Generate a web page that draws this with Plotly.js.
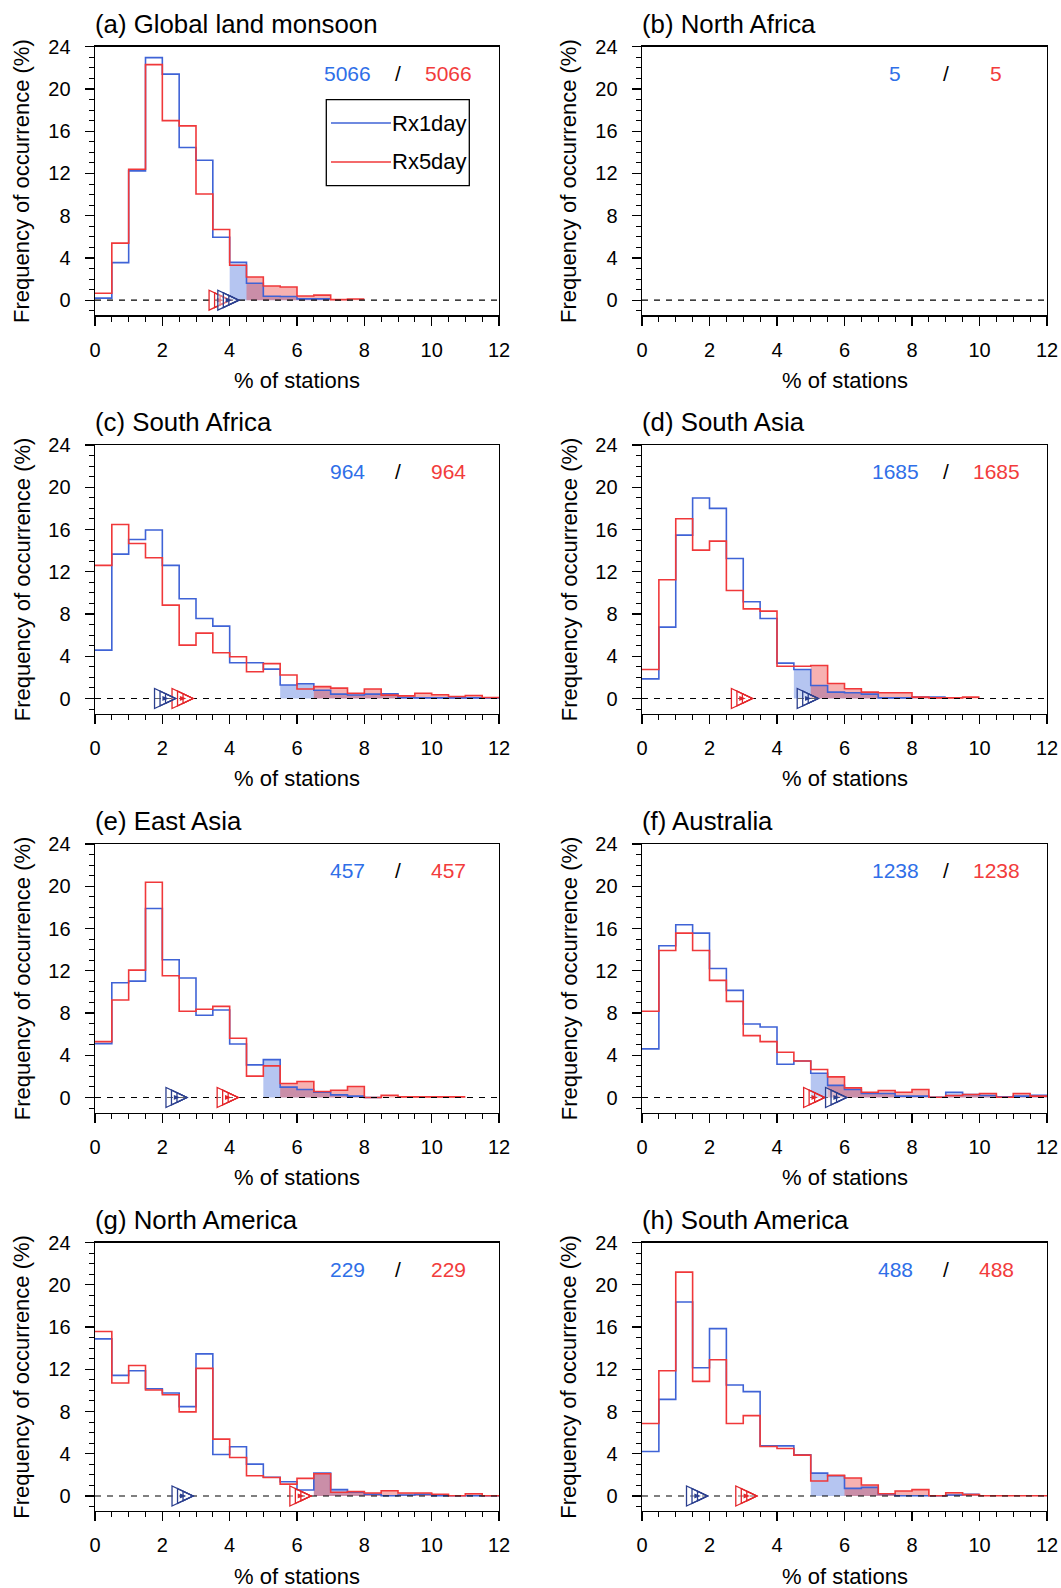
<!DOCTYPE html>
<html>
<head>
<meta charset="utf-8">
<script src="https://cdn.plot.ly/plotly-3.0.1.min.js"></script>
<style>html,body{margin:0;padding:0;background:#fff}#chart{width:1061px;height:1588px}</style>
</head>
<body>
<div id="chart"></div>
<script>
// ---------------- DATA ----------------
const binEdges = [0,0.5,1,1.5,2,2.5,3,3.5,4,4.5,5,5.5,6,6.5,7,7.5,8,8.5,9,9.5,10,10.5,11,11.5,12];
const seriesNames = ["Rx1day", "Rx5day"];
const panelTitles = ["(a) Global land monsoon","(b) North Africa","(c) South Africa","(d) South Asia",
                     "(e) East Asia","(f) Australia","(g) North America","(h) South America"];
const stationCounts = ["5066","5","964","1685","457","1238","229","488"];

// frequency of occurrence (%) per 0.5-wide bin, Rx1day (blue) and Rx5day (red)
const globalRx1 = [0.2,3.56,12.24,22.97,21.4,14.45,13.25,5.96,3.6,1.6,0.37,0.35,0.13,0.13];
const globalRx5 = [0.66,5.4,12.4,22.3,17.0,16.5,10.06,6.69,3.31,2.2,1.34,1.25,0.4,0.48,0.05,0.12];
const northAfricaRx1 = [];
const northAfricaRx5 = [];
const southAfricaRx1 = [4.58,13.67,15.06,15.95,12.6,9.44,7.58,6.85,3.38,3.38,2.78,1.28,1.4,0.78,0.41,0.33,0.41,0.44,0.08,0.06,0.06,0.06,0.06,0.06];
const southAfricaRx5 = [12.6,16.48,14.68,13.32,8.84,5.05,6.19,4.33,3.95,2.53,3.3,2.22,0.9,1.12,0.98,0.5,0.9,0.32,0.25,0.5,0.35,0.19,0.28,0.1];
const southAsiaRx1 = [1.86,6.76,15.47,18.98,18.0,13.26,9.16,7.58,3.35,2.75,1.23,0.6,0.54,0.41,0.06,0.06,0.13,0.13];
const southAsiaRx5 = [2.75,11.24,17.02,14.05,14.9,10.23,8.49,8.27,3.06,3.06,3.13,1.42,0.92,0.6,0.54,0.54,0.13,0.06,0.06,0.13];
const eastAsiaRx1 = [5.1,10.87,11.02,17.89,13.04,11.31,7.78,8.28,5.07,3.09,3.59,0.98,0.76,0.5,0.25,0.13,0.0];
const eastAsiaRx5 = [5.29,9.23,12.06,20.38,11.53,8.16,8.35,8.63,5.61,2.02,2.99,1.32,1.51,0.57,0.69,1.04,0.0,0.22,0.06,0.06,0.06,0.06];
const australiaRx1 = [4.6,14.36,16.35,15.56,12.22,10.14,6.96,6.68,3.15,3.46,2.3,1.15,0.76,0.38,0.38,0.13,0.13,0.03,0.5,0.28,0.19,0.06,0.13,0.22];
const australiaRx5 = [8.16,13.92,15.56,13.92,11.09,9.1,5.86,5.29,4.28,3.46,2.65,1.95,0.91,0.5,0.66,0.5,0.76,0.03,0.19,0.28,0.38,0.03,0.38,0.13];
const northAmericaRx1 = [14.88,11.42,11.86,10.16,9.75,8.46,13.46,3.93,4.66,3.02,1.78,1.35,0.57,2.17,0.6,0.35,0.16,0.03,0.1,0.16,0.03,0.03,0.03,0.03];
const northAmericaRx5 = [15.57,10.7,12.36,10.03,9.59,7.96,12.08,5.38,3.65,1.92,1.75,1.12,1.67,2.1,0.35,0.41,0.28,0.5,0.28,0.28,0.16,0.03,0.22,0.03];
const southAmericaRx1 = [4.21,9.15,18.37,12.14,15.85,10.51,9.88,4.75,4.75,3.9,2.17,1.92,0.72,0.82,0.19,0.03,0.03,0.03,0.1,0.16];
const southAmericaRx5 = [6.86,11.86,21.2,10.85,12.9,6.86,7.61,4.69,4.5,3.87,1.42,1.95,1.7,1.04,0.22,0.47,0.6,0.03,0.31,0.13,0.03,0.03,0.03,0.03];

// start of the shaded tail (% of stations), [Rx1day, Rx5day]
const tailStart = [[4.0,4.5],[null,null],[5.5,6.5],[4.5,5.0],[5.0,5.5],[5.0,5.5],[6.5,6.5],[5.0,6.0]];
// mean markers (% of stations), [Rx1day, Rx5day]
const meanMarks = [[3.96,3.70],[null,null],[2.08,2.60],[4.91,2.96],[2.42,3.94],[5.75,5.10],[2.60,6.10],[1.63,3.09]];

const panelData = [
  [globalRx1, globalRx5],[northAfricaRx1, northAfricaRx5],
  [southAfricaRx1, southAfricaRx5],[southAsiaRx1, southAsiaRx5],
  [eastAsiaRx1, eastAsiaRx5],[australiaRx1, australiaRx5],
  [northAmericaRx1, northAmericaRx5],[southAmericaRx1, southAmericaRx5]
];

// ---------------- STYLE / LAYOUT ----------------
const W = 1061, H = 1588;
const FONT = "Liberation Sans, Arial, Helvetica, sans-serif";
const lineColors = ["#3f63d6", "#f0383a"];
const fillColors = ["rgba(70,110,220,0.40)", "rgba(235,60,60,0.40)"];
const triColors = ["#2b3f8f", "#e4262a"];
const textColors = ["#2f6fe8", "#f23c3c"];
const colLeft = [95, 642], colRight = [499, 1047];
const rowTop = [46.7, 445, 844, 1242.5], plotH = 268.5;

const px = x => x / W;
const py = y => 1 - y / H;

const traces = [];
const layout = {
  width: W, height: H,
  margin: {l:0, r:0, t:0, b:0},
  paper_bgcolor: "#fff", plot_bgcolor: "#fff",
  showlegend: false,
  font: {family: FONT, color: "#000"},
  annotations: [], shapes: []
};

function stepXY(vals, startIdx) {
  const n = vals.length;
  const x = binEdges.slice(startIdx, n + 1);
  const y = vals.slice(startIdx).concat([vals[n - 1]]);
  return {x, y};
}

for (let i = 0; i < 8; i++) {
  const col = i % 2, row = Math.floor(i / 2);
  const s = i === 0 ? "" : String(i + 1);
  const xr = "x" + s, yr = "y" + s;
  const L = colLeft[col], R = colRight[col], T = rowTop[row], B = T + plotH;

  layout["xaxis" + s] = {
    domain: [px(L), px(R)], anchor: yr, range: [0, 12],
    tickmode: "linear", tick0: 0, dtick: 2,
    ticks: "outside", ticklen: 9, tickwidth: 1.2, tickcolor: "#000",
    showline: true, linecolor: "#000", linewidth: 1.4, mirror: true,
    showgrid: false, zeroline: false,
    tickfont: {family: FONT, size: 20, color: "#000"}, ticklabelstandoff: 7,
    minor: {dtick: 0.5, tick0: 0, ticks: "outside", ticklen: 5, tickwidth: 1, tickcolor: "#000", showgrid: false},
    fixedrange: true
  };
  layout["yaxis" + s] = {
    domain: [py(B), py(T)], anchor: xr, range: [-1.42, 24],
    tickmode: "linear", tick0: 0, dtick: 4,
    ticks: "outside", ticklen: 9, tickwidth: 1.2, tickcolor: "#000",
    showline: true, linecolor: "#000", linewidth: 1.4, mirror: true,
    showgrid: false, zeroline: false,
    tickfont: {family: FONT, size: 20, color: "#000"}, ticklabelstandoff: 10,
    minor: {dtick: 1, tick0: 0, ticks: "outside", ticklen: 5, tickwidth: 1, tickcolor: "#000", showgrid: false},
    fixedrange: true
  };

  // shaded tails
  for (let k = 0; k < 2; k++) {
    const vals = panelData[i][k];
    if (!vals.length || tailStart[i][k] === null) continue;
    const idx = binEdges.indexOf(tailStart[i][k]);
    const d = stepXY(vals, idx);
    traces.push({type: "scatter", mode: "lines", x: d.x, y: d.y, xaxis: xr, yaxis: yr,
      line: {shape: "hv", width: 0, color: fillColors[k]}, fill: "tozeroy", fillcolor: fillColors[k],
      hoverinfo: "skip"});
  }
  // step lines
  for (let k = 0; k < 2; k++) {
    const vals = panelData[i][k];
    if (!vals.length) continue;
    const d = stepXY(vals, 0);
    traces.push({type: "scatter", mode: "lines", x: d.x, y: d.y, xaxis: xr, yaxis: yr,
      name: seriesNames[k], line: {shape: "hv", width: 1.6, color: lineColors[k]}});
  }

  // zero dashed line
  layout.shapes.push({type: "line", xref: xr + " domain", yref: yr, x0: 0, x1: 1, y0: 0, y1: 0,
    line: {color: "#000", width: 1.2, dash: "6px,6px"}});

  // mean triangles (red first, blue on top)
  for (const k of [1, 0]) {
    const m = meanMarks[i][k];
    if (m === null) continue;
    const base = {type: "path", xref: xr, yref: yr, xsizemode: "pixel", ysizemode: "pixel",
      xanchor: m, yanchor: 0, line: {color: triColors[k], width: 1.3}};
    layout.shapes.push(Object.assign({}, base, {path: "M-10.5,-10L10.5,0L-10.5,10Z", fillcolor: "rgba(255,255,255,0.4)"}));
    layout.shapes.push(Object.assign({}, base, {path: "M-5,-7.4L10.5,0L-5,7.4Z"}));
    layout.shapes.push(Object.assign({}, base, {path: "M0.5,-4.8L10.5,0L0.5,4.8Z"}));
    layout.shapes.push(Object.assign({}, base, {path: "M-2,-1.5L2,0L-2,1.5Z", fillcolor: triColors[k]}));
  }

  // panel title
  layout.annotations.push({xref: "paper", yref: "paper", x: px(L - 2), y: py(T - 23),
    xanchor: "left", yanchor: "middle", showarrow: false, text: panelTitles[i],
    font: {family: FONT, size: 25.8, color: "#000"}});
  // axis titles
  layout.annotations.push({xref: "paper", yref: "paper", x: px((L + R) / 2), y: py(B + 65),
    xanchor: "center", yanchor: "middle", showarrow: false, text: "% of stations",
    font: {family: FONT, size: 22, color: "#000"}});
  layout.annotations.push({xref: "paper", yref: "paper", x: px(L - 73), y: py((T + B) / 2),
    xanchor: "center", yanchor: "middle", showarrow: false, textangle: -90,
    text: "Frequency of occurrence (%)", font: {family: FONT, size: 22, color: "#000"}});
  // station counts
  layout.annotations.push({xref: xr, yref: yr, x: 7.5, y: 21.45, showarrow: false, xanchor: "center", yanchor: "middle",
    text: stationCounts[i], font: {family: FONT, size: 21, color: textColors[0]}});
  layout.annotations.push({xref: xr, yref: yr, x: 9.0, y: 21.45, showarrow: false, xanchor: "center", yanchor: "middle",
    text: "/", font: {family: FONT, size: 21, color: "#000"}});
  layout.annotations.push({xref: xr, yref: yr, x: 10.5, y: 21.45, showarrow: false, xanchor: "center", yanchor: "middle",
    text: stationCounts[i], font: {family: FONT, size: 21, color: textColors[1]}});
}

// legend box in panel (a)
layout.shapes.push({type: "rect", xref: "paper", yref: "paper", x0: px(326.3), x1: px(469.3), y0: py(185.7), y1: py(99.7),
  line: {color: "#000", width: 1.3}, fillcolor: "rgba(255,255,255,0)"});
const legendY = [123, 162];
for (let k = 0; k < 2; k++) {
  layout.shapes.push({type: "line", xref: "paper", yref: "paper", x0: px(331), x1: px(391), y0: py(legendY[k]), y1: py(legendY[k]),
    line: {color: lineColors[k], width: 1.6}});
  layout.annotations.push({xref: "paper", yref: "paper", x: px(390), y: py(legendY[k]), xanchor: "left", yanchor: "middle",
    showarrow: false, text: seriesNames[k], font: {family: FONT, size: 22, color: "#000"}});
}

Plotly.newPlot("chart", traces, layout, {staticPlot: true, displayModeBar: false});
</script>
</body>
</html>
